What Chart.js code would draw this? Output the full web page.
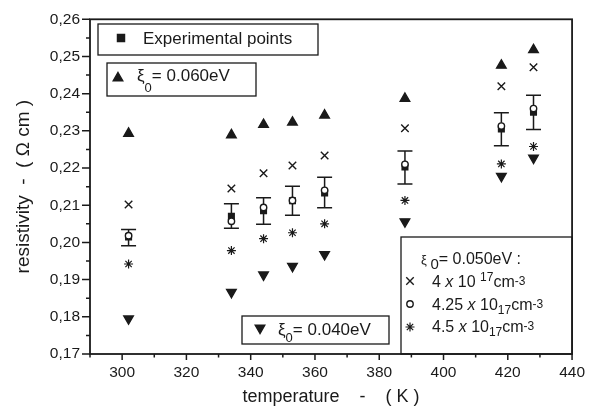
<!DOCTYPE html>
<html>
<head>
<meta charset="utf-8">
<script src="https://cdn.jsdelivr.net/npm/chart.js@4"></script>
<style>
  html, body { margin: 0; padding: 0; background: #fff; }
</style>
</head>
<body>
<canvas id="c" width="594" height="410"></canvas>
<script>
// ===== data =====
const TEMPS = [302, 334, 344, 353, 363, 388, 418, 428];

// experimental resistivity (Ohm cm) with error range
const EXP    = [0.2015, 0.2070, 0.2085, 0.2112, 0.2133, 0.2203, 0.2305, 0.2350];
const ERR_LO = [0.1991, 0.2038, 0.2049, 0.2073, 0.2093, 0.2157, 0.2260, 0.2304];
const ERR_HI = [0.2035, 0.2104, 0.2120, 0.2151, 0.2175, 0.2246, 0.2349, 0.2396];

// model, xi0 = 0.060 eV / 0.040 eV
const XI060 = [0.2293, 0.2289, 0.2317, 0.2323, 0.2342, 0.2387, 0.2476, 0.2518];
const XI040 = [0.1795, 0.1866, 0.1913, 0.1936, 0.1968, 0.2056, 0.2178, 0.2227];

// model, xi0 = 0.050 eV, three concentrations
const N400 = [0.2102, 0.2145, 0.2186, 0.2207, 0.2234, 0.2307, 0.2420, 0.2471];
const N425 = [0.2018, 0.2057, 0.2094, 0.2113, 0.2140, 0.2210, 0.2313, 0.2360];
const N450 = [0.1942, 0.1978, 0.2010, 0.2026, 0.2050, 0.2113, 0.2211, 0.2258];

const XTICKS = [300, 320, 340, 360, 380, 400, 420, 440];
const XMINOR = [290, 310, 330, 350, 370, 390, 410, 430];
const YTICKS = [0.17, 0.18, 0.19, 0.20, 0.21, 0.22, 0.23, 0.24, 0.25, 0.26];
const YMINOR = [0.175, 0.185, 0.195, 0.205, 0.215, 0.225, 0.235, 0.245, 0.255];

const FONT = '"Liberation Sans", Arial, sans-serif';
const INK = '#1a1a1a';

const pts = ys => TEMPS.map((x, i) => ({ x, y: ys[i] }));

function marker(name, data, style, r, opts = {}) {
  return {
    label: name, data, pointStyle: style, pointRadius: r, pointHoverRadius: r,
    backgroundColor: INK, borderColor: INK, borderWidth: 1.4, showLine: false, ...opts
  };
}

// text made of pieces (sub/superscripts, italic)
function runs(ctx, x, y, parts, size) {
  parts.forEach(p => {
    const s = p.s || size;
    ctx.font = (p.i ? 'italic ' : '') + s + 'px ' + FONT;
    ctx.fillText(p.t, x, y + (p.dy || 0));
    x += ctx.measureText(p.t).width;
  });
}

function box(ctx, x, y, w, h) {
  ctx.fillStyle = '#fff';
  ctx.fillRect(x, y, w, h);
  ctx.strokeStyle = INK;
  ctx.lineWidth = 1.3;
  ctx.strokeRect(x, y, w, h);
  ctx.fillStyle = INK;
}

function legendPoint(ctx, x, y, style, r, fill, rotation = 0, bw = 1.4) {
  ctx.fillStyle = fill;
  ctx.strokeStyle = INK;
  ctx.lineWidth = bw;
  Chart.helpers.drawPoint(ctx, { pointStyle: style, radius: r, rotation, borderWidth: bw }, x, y);
  ctx.fillStyle = INK;
}

const extras = {
  id: 'extras',
  beforeDatasetsDraw(chart) {
    const { ctx, scales: { x, y } } = chart;
    ctx.save();
    ctx.strokeStyle = INK;
    ctx.lineWidth = 1.5;
    TEMPS.forEach((t, i) => {
      const px = x.getPixelForValue(t);
      const lo = y.getPixelForValue(ERR_LO[i]);
      const hi = y.getPixelForValue(ERR_HI[i]);
      ctx.beginPath();
      ctx.moveTo(px, lo); ctx.lineTo(px, hi);
      ctx.moveTo(px - 7.5, lo); ctx.lineTo(px + 7.5, lo);
      ctx.moveTo(px - 7.5, hi); ctx.lineTo(px + 7.5, hi);
      ctx.stroke();
    });
    ctx.restore();
  },
  afterDraw(chart) {
    const { ctx, chartArea: a, scales: { x, y } } = chart;
    ctx.save();
    // ticks
    ctx.strokeStyle = INK;
    ctx.lineWidth = 1.5;
    ctx.beginPath();
    XTICKS.forEach(v => { const p = x.getPixelForValue(v); ctx.moveTo(p, a.bottom); ctx.lineTo(p, a.bottom + 6); });
    XMINOR.forEach(v => { const p = x.getPixelForValue(v); ctx.moveTo(p, a.bottom); ctx.lineTo(p, a.bottom + 3.5); });
    YTICKS.forEach(v => { const p = y.getPixelForValue(v); ctx.moveTo(a.left, p); ctx.lineTo(a.left - 8, p); });
    YMINOR.forEach(v => { const p = y.getPixelForValue(v); ctx.moveTo(a.left, p); ctx.lineTo(a.left - 4, p); });
    ctx.stroke();

    ctx.textBaseline = 'alphabetic';
    ctx.textAlign = 'left';

    // experimental points
    box(ctx, 98, 24, 220, 31);
    legendPoint(ctx, 121, 38, 'rect', 5, INK);
    runs(ctx, 143, 44, [{ t: 'Experimental points' }], 17);

    // xi0 = 0.060 eV
    box(ctx, 107, 63, 149, 33);
    legendPoint(ctx, 118, 78, 'triangle', 5.5, INK);
    runs(ctx, 137, 81, [{ t: 'ξ' }, { t: '0', s: 13, dy: 11 }, { t: '= 0.060eV' }], 17);

    // xi0 = 0.040 eV
    box(ctx, 242, 316, 147, 28);
    legendPoint(ctx, 260, 328, 'triangle', 5.5, INK, 180);
    runs(ctx, 278, 335, [{ t: 'ξ' }, { t: '0', s: 13, dy: 7 }, { t: '= 0.040eV' }], 17);

    // xi0 = 0.050 eV concentrations
    box(ctx, 401, 237, a.right - 401, a.bottom - 237);
    runs(ctx, 421, 264, [{ t: 'ξ ', s: 13 }, { t: '0', s: 15, dy: 5 }, { t: '= 0.050eV :' }], 16);
    legendPoint(ctx, 410, 281, 'crossRot', 5.3, INK);
    runs(ctx, 432, 287, [{ t: '4 ' }, { t: 'x', i: true }, { t: ' 10 ' }, { t: '17', s: 12, dy: -6 }, { t: 'cm' }, { t: '-3', s: 12, dy: -2 }], 16);
    legendPoint(ctx, 410, 304, 'circle', 3.2, '#fff');
    runs(ctx, 432, 310, [{ t: '4.25 ' }, { t: 'x', i: true }, { t: ' 10' }, { t: '17', s: 12, dy: 4 }, { t: 'cm' }, { t: '-3', s: 12, dy: -2 }], 16);
    legendPoint(ctx, 410, 327, 'star', 4.5, INK, 0, 1.2);
    runs(ctx, 432, 332, [{ t: '4.5 ' }, { t: 'x', i: true }, { t: ' 10' }, { t: '17', s: 12, dy: 4 }, { t: 'cm' }, { t: '-3', s: 12, dy: -2 }], 16);

    // frame
    ctx.strokeStyle = INK;
    ctx.lineWidth = 1.8;
    ctx.strokeRect(a.left, a.top, a.right - a.left, a.bottom - a.top);
    ctx.restore();
  }
};

new Chart(document.getElementById('c'), {
  type: 'scatter',
  data: {
    datasets: [
      marker('Experimental points', pts(EXP), 'rect', 5, { borderWidth: 0, order: 3 }),
      marker('4.25 x 10^17', pts(N425), 'circle', 3.2, { backgroundColor: '#fff', order: 1 }),
      marker('xi0 = 0.060eV', pts(XI060), 'triangle', 5.5, { order: 2 }),
      marker('xi0 = 0.040eV', pts(XI040), 'triangle', 5.5, { rotation: 180, order: 2 }),
      marker('4 x 10^17', pts(N400), 'crossRot', 5.3, { order: 2 }),
      marker('4.5 x 10^17', pts(N450), 'star', 4.5, { borderWidth: 1.2, order: 2 })
    ]
  },
  options: {
    responsive: false,
    animation: false,
    devicePixelRatio: 1,
    layout: { padding: { top: 17, right: 20, left: 0, bottom: 0 } },
    plugins: { legend: { display: false }, tooltip: { enabled: false } },
    scales: {
      x: {
        type: 'linear', min: 290, max: 440,
        afterFit: s => { s.height = 56; },
        afterBuildTicks: s => { s.ticks = XTICKS.map(v => ({ value: v })); },
        grid: { display: false, drawTicks: false },
        border: { display: false },
        ticks: { font: { family: FONT, size: 15.5 }, color: INK, padding: 9, maxRotation: 0, autoSkip: false },
        title: {
          display: true, text: 'temperature    -    ( K )', color: INK,
          font: { family: FONT, size: 18 }, padding: { top: 0, bottom: 2 }
        }
      },
      y: {
        type: 'linear', min: 0.17, max: 0.26,
        afterFit: s => { s.width = 90; },
        afterBuildTicks: s => { s.ticks = YTICKS.map(v => ({ value: v })); },
        grid: { display: false, drawTicks: false },
        border: { display: false },
        ticks: {
          font: { family: FONT, size: 15.5 }, color: INK, padding: 10, autoSkip: false,
          callback: v => v.toFixed(2).replace('.', ',')
        },
        title: {
          display: true, text: 'resistivity  -  ( Ω cm )', color: INK,
          font: { family: FONT, size: 19 }, padding: { top: 12, bottom: 0 }
        }
      }
    }
  },
  plugins: [extras]
});
</script>
</body>
</html>
